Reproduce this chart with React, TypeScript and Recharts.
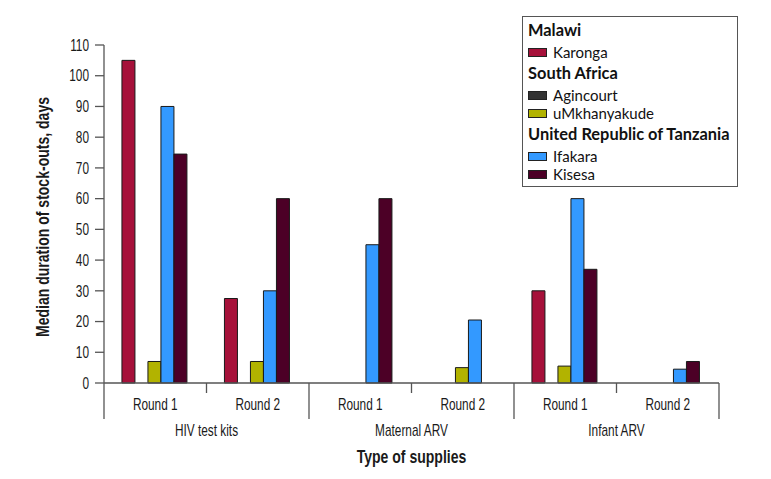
import React from 'react';
import { BarChart, Bar, XAxis, YAxis, Legend } from 'recharts';

const roundLabels = ['Round 1', 'Round 2', 'Round 1', 'Round 2', 'Round 1', 'Round 2'];
const groupLabels = ['HIV test kits', 'Maternal ARV', 'Infant ARV'];
const yTicks = [0, 10, 20, 30, 40, 50, 60, 70, 80, 90, 100, 110];

const karonga = [105, 27.5, null, null, 30, null];
const agincourt = [null, null, null, null, null, null];
const umkhanyakude = [7, 7, null, 5, 5.5, null];
const ifakara = [90, 30, 45, 20.5, 60, 4.5];
const kisesa = [74.5, 60, 60, null, 37, 7];

const countries = [
  { name: 'Malawi', sites: ['Karonga'] },
  { name: 'South Africa', sites: ['Agincourt', 'uMkhanyakude'] },
  { name: 'United Republic of Tanzania', sites: ['Ifakara', 'Kisesa'] },
];

const seriesList = [
  { key: 'Karonga', values: karonga, color: '#A6113A' },
  { key: 'Agincourt', values: agincourt, color: '#333333' },
  { key: 'uMkhanyakude', values: umkhanyakude, color: '#B2B300' },
  { key: 'Ifakara', values: ifakara, color: '#3399FF' },
  { key: 'Kisesa', values: kisesa, color: '#4C0026' },
];

const data = roundLabels.map((r, i) => {
  const row: any = { key: `${groupLabels[Math.floor(i / 2)]}|${r}`, round: r, group: groupLabels[Math.floor(i / 2)] };
  seriesList.forEach((s) => {
    row[s.key] = s.values[i];
  });
  return row;
});

const AXIS_FONT = '"Liberation Sans", Arial, sans-serif';
const LEGEND_FONT = 'Lato, "Open Sans", sans-serif';
const AXIS_COLOR = '#555';
const SX = 0.74;
const SX_BOLD = 0.78;

const CText = (props: any) => {
  const { x, y, sx, anchor, size, weight, rotate, children } = props;
  const tf = rotate
    ? `translate(${x},${y}) rotate(${rotate}) scale(${sx},1)`
    : `translate(${x},${y}) scale(${sx},1)`;
  return (
    <text
      transform={tf}
      x={0}
      y={0}
      textAnchor={anchor || 'middle'}
      fontFamily={AXIS_FONT}
      fontSize={size || 16}
      fontWeight={weight || 400}
      fill="#1a1a1a"
    >
      {children}
    </text>
  );
};

const XTick = (props: any) => {
  const { x, y, payload, index } = props;
  const half = payload && payload.offset ? payload.offset : 51.25;
  const isFirst = index % 2 === 0;
  const isLast = index === data.length - 1;
  const row = data[index];
  return (
    <g>
      <CText x={x} y={y + 27} sx={SX}>
        {row ? row.round : ''}
      </CText>
      {isFirst && <line x1={x - half} x2={x - half} y1={y} y2={y + 36} stroke={AXIS_COLOR} strokeWidth={1.3} />}
      {isFirst && <line x1={x + half} x2={x + half} y1={y} y2={y + 10} stroke={AXIS_COLOR} strokeWidth={1.3} />}
      {isLast && <line x1={x + half} x2={x + half} y1={y} y2={y + 36} stroke={AXIS_COLOR} strokeWidth={1.3} />}
      {isFirst && (
        <CText x={x + half} y={y + 53} sx={SX}>
          {row ? row.group : ''}
        </CText>
      )}
    </g>
  );
};

const YTick = (props: any) => {
  const { x, y, payload } = props;
  return (
    <CText x={x} y={y + 5.7} sx={SX} anchor="end">
      {payload ? payload.value : ''}
    </CText>
  );
};

const LegendBox = () => {
  const colorOf = (site: string) => seriesList.find((s) => s.key === site)?.color || '#000';
  return (
    <div
      style={{
        width: 209,
        height: 167,
        border: '1.5px solid #555',
        boxSizing: 'content-box',
        fontFamily: LEGEND_FONT,
        color: '#111',
        paddingTop: 2,
        paddingLeft: 5,
        paddingBottom: 0,
        textAlign: 'left',
        background: '#fff',
      }}
    >
      {countries.map((c, ci) => (
        <div key={c.name} style={{ marginTop: ci === 0 ? 0 : 1 }}>
          <div style={{ fontWeight: 700, fontSize: 16.4, lineHeight: '22px', whiteSpace: 'nowrap' }}>{c.name}</div>
          {c.sites.map((s, si) => (
            <div
              key={s}
              style={{ display: 'flex', alignItems: 'center', fontSize: 15, lineHeight: '18px', height: 18, marginTop: si === 0 ? 2 : 0 }}
            >
              <span
                style={{
                  display: 'inline-block',
                  width: 17,
                  height: 7,
                  background: colorOf(s),
                  border: '1px solid #222',
                  marginRight: 6,
                }}
              />
              <span>{s}</span>
            </div>
          ))}
        </div>
      ))}
    </div>
  );
};

export default function App() {
  return (
    <div style={{ position: 'absolute', left: 0, top: 0, width: 771, height: 479, background: '#fff' }}>
      <BarChart
        width={771}
        height={479}
        data={data}
        margin={{ top: 45, right: 52, bottom: 0, left: 0 }}
        barCategoryGap="17.5%"
        barGap={0}
      >
        <XAxis
          dataKey="key"
          type="category"
          height={96}
          interval={0}
          tickLine={false}
          tickSize={0}
          tickMargin={0}
          axisLine={{ stroke: AXIS_COLOR, strokeWidth: 1.3 }}
          tick={<XTick />}
          label={{
            content: (p: any) => {
              const vb = p.viewBox || { x: 104, y: 383, width: 615 };
              return (
                <CText x={vb.x + vb.width / 2} y={vb.y + 80} sx={SX_BOLD} size={18} weight={700}>
                  Type of supplies
                </CText>
              );
            },
          }}
        />
        <YAxis
          type="number"
          domain={[0, 110]}
          ticks={yTicks}
          interval={0}
          width={104}
          tickSize={9}
          tickMargin={6}
          tickLine={{ stroke: AXIS_COLOR, strokeWidth: 1.3 }}
          axisLine={{ stroke: AXIS_COLOR, strokeWidth: 1.3 }}
          tick={<YTick />}
          label={{
            content: (p: any) => {
              const vb = p.viewBox || { x: 0, y: 45, height: 338 };
              const cx = vb.x + 49;
              const cy = vb.y + vb.height / 2 + 3;
              return (
                <CText x={cx} y={cy} sx={SX_BOLD} size={18} weight={700} rotate={-90}>
                  Median duration of stock-outs, days
                </CText>
              );
            },
          }}
        />
        <Legend
          layout="vertical"
          align="center"
          verticalAlign="middle"
          content={<LegendBox />}
          wrapperStyle={{ position: 'absolute', left: 522, top: 16, width: 'auto', height: 'auto' }}
        />
        {seriesList.map((s) => (
          <Bar
            key={s.key}
            dataKey={s.key}
            name={s.key}
            fill={s.color}
            stroke="#1a1a1a"
            strokeWidth={1}
            isAnimationActive={false}
          />
        ))}
      </BarChart>
    </div>
  );
}
